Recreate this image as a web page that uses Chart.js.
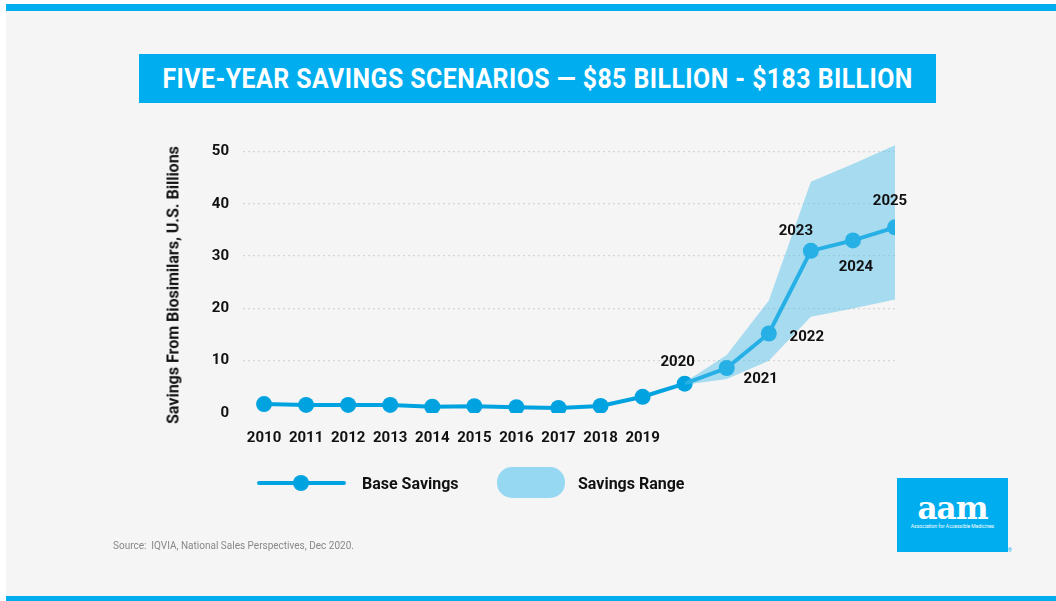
<!DOCTYPE html>
<html>
<head>
<meta charset="utf-8">
<script src="https://cdn.jsdelivr.net/npm/chart.js@4"></script>
<style>
  html, body { margin: 0; padding: 0; background: #fff; }
  body { width: 1056px; height: 601px; position: relative; overflow: hidden; font-family: Roboto, sans-serif; }
  #bg { position: absolute; left: 6px; top: 4px; right: 0; bottom: 0; background: #f5f5f5; }
  #topbar { position: absolute; left: 6px; top: 4px; right: 0; height: 7px; background: #00aeef; }
  #botbar { position: absolute; left: 6px; top: 596px; right: 0; height: 5px; background: #00aeef; }
  #titlebox { position: absolute; left: 139px; top: 54px; width: 797px; height: 49px; background: #00aeef;
    display: flex; align-items: center; justify-content: center; overflow: hidden; }
  #title { color: #fff; font-weight: 700; font-size: 27px; white-space: nowrap; letter-spacing: 0.5px; display: inline-block; transform-origin: center; }
  #chart { position: absolute; left: 0; top: 0; }
  #ytitle { position: absolute; left: 173px; top: 285px; transform: translate(-50%, -50%) rotate(-90deg);
    white-space: nowrap; font-weight: 700; font-size: 16px; color: #111; }
  .leg { position: absolute; font-weight: 700; font-size: 16px; color: #111; }
  #legline { position: absolute; left: 257px; top: 481px; width: 89px; height: 4px; background: #00a3e0; border-radius: 2px; }
  #legdot { position: absolute; left: 293px; top: 475px; width: 16px; height: 16px; border-radius: 50%; background: #00a3e0; }
  #legswatch { position: absolute; left: 497px; top: 467px; width: 68px; height: 31px; border-radius: 15px; background: #96d8f2; }
  #logo { position: absolute; left: 897px; top: 478px; width: 111px; height: 74px; background: #00aeef; color: #fff; text-align: center; }
  #logo .big { font-family: "DejaVu Serif", serif; font-weight: 700; font-size: 31px; line-height: 30px; margin-top: 15px; letter-spacing: -1px; }
  #logo .small { font-size: 5px; line-height: 6px; }
  #reg { position: absolute; left: 1008px; top: 547px; font-size: 5px; color: #00aeef; }
  #source { position: absolute; left: 113px; top: 540px; font-size: 10px; color: #888; }
</style>
</head>
<body>
<div id="bg"></div>
<div id="topbar"></div>
<div id="botbar"></div>
<div id="titlebox"><span id="title">FIVE-YEAR SAVINGS SCENARIOS — $85 BILLION - $183 BILLION</span></div>
<canvas id="chart" width="1056" height="601"></canvas>
<div id="ytitle">Savings From Biosimilars, U.S. Billions</div>
<div id="legline"></div><div id="legdot"></div>
<div class="leg" style="left:362px; top:474px;">Base Savings</div>
<div id="legswatch"></div>
<div class="leg" style="left:578px; top:474px;">Savings Range</div>
<div id="logo"><div class="big">aam</div><div class="small">Association for Accessible Medicines</div></div>
<div id="reg">®</div>
<div id="source">Source:&nbsp; IQVIA, National Sales Perspectives, Dec 2020.</div>
<script>
const years = [2010, 2011, 2012, 2013, 2014, 2015, 2016, 2017, 2018, 2019, 2020, 2021, 2022, 2023, 2024, 2025]
const baseSavings = [1.7, 1.55, 1.55, 1.55, 1.2, 1.3, 1.1, 0.95, 1.35, 3.1, 5.6, 8.6, 15.2, 31.0, 33.0, 35.5]
const rangeLow = [null, null, null, null, null, null, null, null, null, null, 5.4, 6.5, 10.0, 18.4, 20.0, 21.7]
const rangeHigh = [null, null, null, null, null, null, null, null, null, null, 5.9, 11.1, 21.5, 44.2, 47.6, 51.2]
const yTicks = [0, 10, 20, 30, 40, 50]
const axisYears = [2010, 2011, 2012, 2013, 2014, 2015, 2016, 2017, 2018, 2019]
const pointLabelYears = [2020, 2021, 2022, 2023, 2024, 2025]

// fit the condensed-looking title into its box
const t = document.getElementById('title')
t.style.transform = 'scaleX(' + (750 / t.offsetWidth) + ')'

const blue = '#00a3e0'
const toXY = (arr) => years.map((yr, i) => ({ x: yr, y: arr[i] }))

// where the year labels sit next to the points after 2019
const labelOffsets = {
  2020: [-7, -21], 2021: [34, 11], 2022: [38, 4],
  2023: [-15, -20], 2024: [3, 27], 2025: [-5, -26]
}

const pointLabels = {
  id: 'pointLabels',
  afterDatasetsDraw(chart) {
    const ctx = chart.ctx
    const meta = chart.getDatasetMeta(2)
    ctx.save()
    ctx.font = '700 15px Roboto'
    ctx.fillStyle = '#111'
    ctx.textAlign = 'center'
    ctx.textBaseline = 'middle'
    years.forEach((yr, i) => {
      if (!pointLabelYears.includes(yr)) return
      const p = meta.data[i]
      const o = labelOffsets[yr]
      ctx.fillText(String(yr), p.x + o[0], p.y + o[1])
    })
    ctx.restore()
  }
}

const ctx = document.getElementById('chart').getContext('2d')
const myChart = new Chart(ctx, {
  type: 'line',
  data: {
    datasets: [
      {
        label: 'low',
        data: toXY(rangeLow),
        borderWidth: 0,
        pointRadius: 0,
        fill: false
      },
      {
        label: 'Savings Range',
        data: toXY(rangeHigh),
        borderWidth: 0,
        pointRadius: 0,
        backgroundColor: 'rgba(80, 190, 235, 0.48)',
        fill: '-1'
      },
      {
        label: 'Base Savings',
        data: toXY(baseSavings),
        borderColor: blue,
        backgroundColor: blue,
        borderWidth: 4,
        pointRadius: 8,
        pointBackgroundColor: blue,
        pointBorderWidth: 0,
        tension: 0,
        fill: false
      }
    ]
  },
  options: {
    responsive: false,
    animation: false,
    layout: { padding: { left: 160, top: 141, right: 161, bottom: 148 } },
    plugins: { legend: { display: false }, tooltip: { enabled: false } },
    scales: {
      x: {
        type: 'linear',
        min: 2009.5,
        max: 2025,
        afterBuildTicks: (axis) => { axis.ticks = axisYears.map(v => ({ value: v })) },
        afterFit: (axis) => { axis.height = 40 },
        grid: { display: false },
        border: { display: false },
        ticks: {
          padding: 8,
          maxRotation: 0,
          autoSkip: false,
          color: '#111',
          font: { family: 'Roboto', weight: '700', size: 15 },
          callback: (v) => String(v)
        }
      },
      y: {
        min: 0,
        max: 52,
        afterBuildTicks: (axis) => { axis.ticks = yTicks.map(v => ({ value: v })) },
        afterFit: (axis) => { axis.width = 83 },
        border: { display: false, dash: [2, 3] },
        grid: {
          drawTicks: false,
          color: (c) => c.tick && c.tick.value === 0 ? 'rgba(0,0,0,0)' : '#d6d6d6',
          lineWidth: 1.2
        },
        ticks: {
          padding: 14,
          color: '#111',
          font: { family: 'Roboto', weight: '700', size: 15 }
        }
      }
    }
  },
  plugins: [pointLabels]
})
</script>
</body>
</html>
